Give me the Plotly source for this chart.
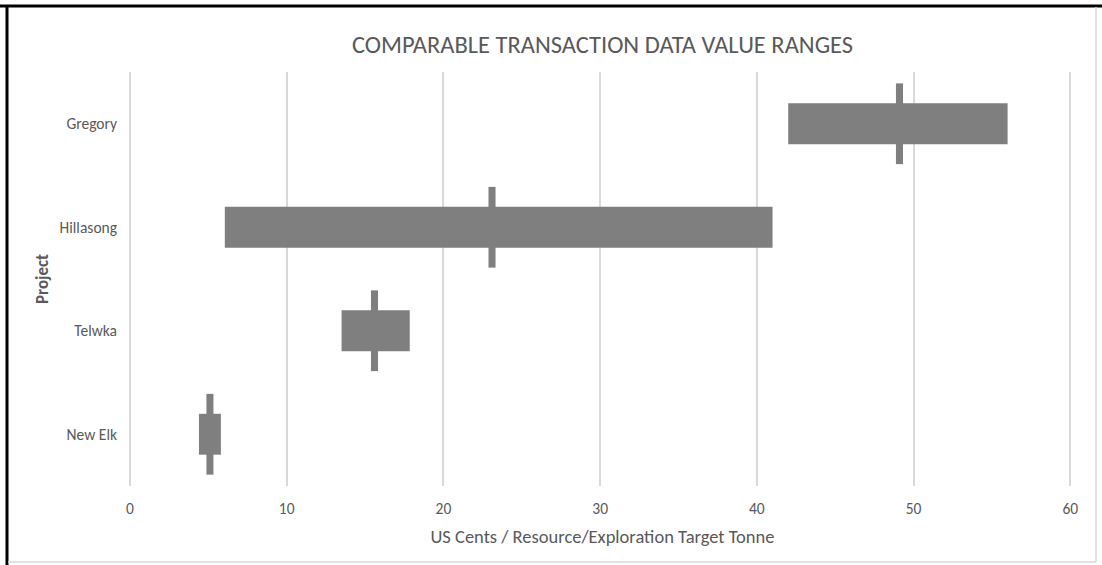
import plotly.graph_objects as go

# data
projects = ["New Elk", "Telwka", "Hillasong", "Gregory"]
range_low = [4.4, 13.5, 6.05, 42.0]
range_high = [5.8, 17.85, 41.0, 56.0]
preferred = [5.1, 15.6, 23.1, 49.1]

x_ticks = [0, 10, 20, 30, 40, 50, 60]

grey = "#7f7f7f"
text_col = "#595959"
grid_col = "#d9d9d9"
font_family = "Carlito, Calibri, Liberation Sans, Arial, sans-serif"
mark_w = 0.45  # width of the preferred-value marker, in axis units

# plot area in pixels
L, R, T, B = 130, 27, 72, 79
PW, PH = 1102 - L - R, 565 - T - B


def px(x):
    return (x - L) / PW


def py(y):
    return (565 - B - y) / PH


fig = go.Figure()

fig.add_trace(go.Bar(
    y=projects,
    x=[h - l for l, h in zip(range_low, range_high)],
    base=range_low,
    orientation="h",
    width=0.395,
    marker=dict(color=grey, line=dict(width=0)),
    name="Range",
    hoverinfo="skip",
))

fig.add_trace(go.Bar(
    y=projects,
    x=[mark_w] * len(preferred),
    base=[p - mark_w / 2 for p in preferred],
    orientation="h",
    width=0.78,
    marker=dict(color=grey, line=dict(width=0)),
    name="Preferred",
    customdata=preferred,
    hovertemplate="%{y}: %{customdata}<extra></extra>",
))

fig.update_layout(
    width=1102,
    height=565,
    barmode="overlay",
    showlegend=False,
    plot_bgcolor="white",
    paper_bgcolor="white",
    margin=dict(l=L, r=R, t=T, b=B),
    font=dict(family=font_family, color=text_col, size=15.5),
    title=dict(
        text="COMPARABLE TRANSACTION DATA VALUE RANGES",
        x=0.5, xref="paper", xanchor="center",
        y=1 - 44 / 565, yanchor="middle",
        font=dict(size=24.5, color=text_col, family=font_family),
    ),
    xaxis=dict(
        range=[0, 60.3],
        tickvals=x_ticks,
        showgrid=True,
        gridcolor=grid_col,
        gridwidth=1.5,
        zeroline=True,
        zerolinecolor=grid_col,
        zerolinewidth=1.5,
        showline=False,
        ticks="",
        ticklabelstandoff=11,
        tickfont=dict(size=15.5, color=text_col),
        title=dict(text="US Cents / Resource/Exploration Target Tonne",
                   font=dict(size=18.5, color=text_col), standoff=13),
    ),
    yaxis=dict(
        categoryorder="array",
        categoryarray=projects,
        range=[-0.5, 3.5],
        showgrid=False,
        zeroline=False,
        showline=False,
        ticks="",
        ticklabelstandoff=12,
        tickfont=dict(size=15.5, color=text_col),
        title=dict(text="<b>Project</b>", font=dict(size=17, color=text_col), standoff=6),
    ),
)

# frame of the chart image: black at top/left, light grey at right/bottom
fig.add_shape(type="line", xref="paper", yref="paper",
              x0=px(0), x1=px(1102), y0=py(6), y1=py(6),
              line=dict(color="black", width=3))
fig.add_shape(type="line", xref="paper", yref="paper",
              x0=px(7), x1=px(7), y0=py(565), y1=py(6),
              line=dict(color="black", width=3))
fig.add_shape(type="line", xref="paper", yref="paper",
              x0=px(1096), x1=px(1096), y0=py(562), y1=py(7),
              line=dict(color=grid_col, width=1.5))
fig.add_shape(type="line", xref="paper", yref="paper",
              x0=px(8), x1=px(1096), y0=py(562), y1=py(562),
              line=dict(color=grid_col, width=1.5))

fig.write_html("out.html", config={"displayModeBar": False},
               post_script="document.body.style.margin='0px';")
